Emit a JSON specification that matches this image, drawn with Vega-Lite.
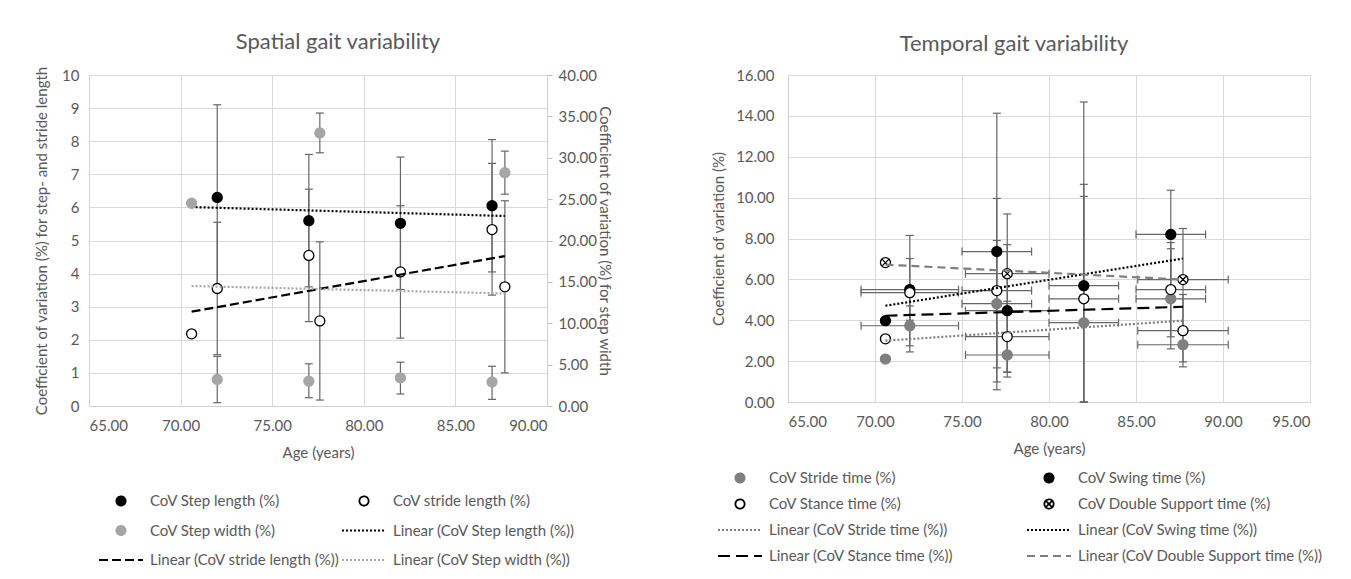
{
  "$schema": "https://vega.github.io/schema/vega-lite/v6.json",
  "background": "white",
  "padding": {"left": 34, "top": 30, "right": 12, "bottom": 5},
  "config": {
    "font": "Lato",
    "view": {"stroke": null},
    "axis": {"labelFont": "Lato", "labelFontSize": 15, "labelColor": "#595959", "titleFont": "Lato", "titleFontSize": 15, "titleFontWeight": "normal", "titleColor": "#595959", "gridColor": "#d9d9d9", "gridWidth": 1, "domainColor": "#d0d0d0", "ticks": false},
    "title": {"font": "Lato", "fontSize": 22, "fontWeight": "normal", "color": "#595959"},
    "legend": {"labelFont": "Lato", "labelFontSize": 15, "labelColor": "#595959", "padding": 0, "symbolStrokeWidth": 1.8, "symbolSize": 1936}
  },
  "resolve": {
    "scale": {"stroke": "independent", "fill": "independent", "shape": "independent", "strokeDash": "independent"},
    "legend": {"stroke": "independent"}
  },
  "datasets": {
    "spatial": [
      {"series": "CoV Step length (%)", "age": 72.0, "cov": 6.3, "lo": 3.5, "hi": 9.1},
      {"series": "CoV Step length (%)", "age": 77.0, "cov": 5.6, "lo": 3.6, "hi": 7.6},
      {"series": "CoV Step length (%)", "age": 82.0, "cov": 5.52, "lo": 3.52, "hi": 7.52},
      {"series": "CoV Step length (%)", "age": 87.0, "cov": 6.05, "lo": 4.05, "hi": 8.05},
      {"series": "CoV stride length (%)", "age": 70.6, "cov": 2.18},
      {"series": "CoV stride length (%)", "age": 72.0, "cov": 3.55, "lo": 1.55, "hi": 5.55},
      {"series": "CoV stride length (%)", "age": 77.0, "cov": 4.55, "lo": 2.55, "hi": 6.55},
      {"series": "CoV stride length (%)", "age": 77.6, "cov": 2.57, "lo": 0.18, "hi": 4.96},
      {"series": "CoV stride length (%)", "age": 82.0, "cov": 4.05, "lo": 2.05, "hi": 6.05},
      {"series": "CoV stride length (%)", "age": 87.0, "cov": 5.33, "lo": 3.35, "hi": 7.33},
      {"series": "CoV stride length (%)", "age": 87.7, "cov": 3.6, "lo": 1.0, "hi": 6.2},
      {"series": "CoV Step width (%)", "age": 70.6, "cov": 24.5},
      {"series": "CoV Step width (%)", "age": 72.0, "cov": 3.2, "lo": 0.4, "hi": 6.0},
      {"series": "CoV Step width (%)", "age": 77.0, "cov": 3.0, "lo": 1.0, "hi": 5.1},
      {"series": "CoV Step width (%)", "age": 77.6, "cov": 33.0, "lo": 30.6, "hi": 35.4},
      {"series": "CoV Step width (%)", "age": 82.0, "cov": 3.4, "lo": 1.45, "hi": 5.3},
      {"series": "CoV Step width (%)", "age": 87.0, "cov": 2.9, "lo": 0.8, "hi": 4.8},
      {"series": "CoV Step width (%)", "age": 87.7, "cov": 28.2, "lo": 25.6, "hi": 30.8}
    ],
    "spatialTrend": [
      {"series": "Linear (CoV Step length (%))", "age": 70.6, "cov": 6.01},
      {"series": "Linear (CoV Step length (%))", "age": 87.7, "cov": 5.74},
      {"series": "Linear (CoV stride length (%))", "age": 70.6, "cov": 2.85},
      {"series": "Linear (CoV stride length (%))", "age": 87.7, "cov": 4.53},
      {"series": "Linear (CoV Step width (%))", "age": 70.6, "cov": 14.5},
      {"series": "Linear (CoV Step width (%))", "age": 87.7, "cov": 13.6}
    ],
    "temporal": [
      {"series": "CoV Stride time (%)", "age": 70.6, "cov": 2.1},
      {"series": "CoV Stride time (%)", "age": 72.0, "cov": 3.73, "lo": 2.75, "hi": 4.7, "age_lo": 69.2, "age_hi": 74.8},
      {"series": "CoV Stride time (%)", "age": 77.0, "cov": 4.81, "lo": 1.67, "hi": 7.9, "age_lo": 75.0, "age_hi": 79.0},
      {"series": "CoV Stride time (%)", "age": 77.6, "cov": 2.3, "lo": 1.45, "hi": 3.15, "age_lo": 75.2, "age_hi": 80.0},
      {"series": "CoV Stride time (%)", "age": 82.0, "cov": 3.88, "lo": 0, "hi": 10.06, "age_lo": 80.0, "age_hi": 84.0},
      {"series": "CoV Stride time (%)", "age": 87.0, "cov": 5.05, "lo": 2.6, "hi": 7.5, "age_lo": 85.0, "age_hi": 89.0},
      {"series": "CoV Stride time (%)", "age": 87.7, "cov": 2.8, "lo": 1.96, "hi": 3.65, "age_lo": 85.1, "age_hi": 90.3},
      {"series": "CoV Swing time (%)", "age": 70.6, "cov": 3.98},
      {"series": "CoV Swing time (%)", "age": 72.0, "cov": 5.5, "lo": 4.0, "hi": 7.02, "age_lo": 69.2, "age_hi": 74.8},
      {"series": "CoV Swing time (%)", "age": 77.0, "cov": 7.36, "lo": 0.6, "hi": 14.13, "age_lo": 75.0, "age_hi": 79.0},
      {"series": "CoV Swing time (%)", "age": 77.6, "cov": 4.47, "lo": 1.22, "hi": 7.7, "age_lo": 75.2, "age_hi": 80.0},
      {"series": "CoV Swing time (%)", "age": 82.0, "cov": 5.69, "lo": 0, "hi": 14.68, "age_lo": 80.0, "age_hi": 84.0},
      {"series": "CoV Swing time (%)", "age": 87.0, "cov": 8.2, "lo": 6.0, "hi": 10.36, "age_lo": 85.0, "age_hi": 89.0},
      {"series": "CoV Stance time (%)", "age": 70.6, "cov": 3.09},
      {"series": "CoV Stance time (%)", "age": 72.0, "cov": 5.35, "lo": 2.45, "hi": 8.15, "age_lo": 69.2, "age_hi": 74.8},
      {"series": "CoV Stance time (%)", "age": 77.0, "cov": 5.45, "lo": 0.98, "hi": 9.96, "age_lo": 75.0, "age_hi": 79.0},
      {"series": "CoV Stance time (%)", "age": 77.6, "cov": 3.2, "lo": 1.47, "hi": 4.93, "age_lo": 75.2, "age_hi": 80.0},
      {"series": "CoV Stance time (%)", "age": 82.0, "cov": 5.05, "lo": 0, "hi": 10.65, "age_lo": 80.0, "age_hi": 84.0},
      {"series": "CoV Stance time (%)", "age": 87.0, "cov": 5.5, "lo": 3.19, "hi": 7.8, "age_lo": 85.0, "age_hi": 89.0},
      {"series": "CoV Stance time (%)", "age": 87.7, "cov": 3.49, "lo": 1.72, "hi": 5.26, "age_lo": 85.1, "age_hi": 90.3},
      {"series": "CoV Double Support time (%)", "age": 70.6, "cov": 6.82},
      {"series": "CoV Double Support time (%)", "age": 77.6, "cov": 6.28, "lo": 3.4, "hi": 9.2, "age_lo": 75.2, "age_hi": 80.0},
      {"series": "CoV Double Support time (%)", "age": 87.7, "cov": 5.99, "lo": 3.5, "hi": 8.49, "age_lo": 85.1, "age_hi": 90.3}
    ],
    "temporalTrend": [
      {"series": "Linear (CoV Stride time (%))", "age": 70.6, "cov": 3.0},
      {"series": "Linear (CoV Stride time (%))", "age": 87.7, "cov": 3.98},
      {"series": "Linear (CoV Swing time (%))", "age": 70.6, "cov": 4.71},
      {"series": "Linear (CoV Swing time (%))", "age": 87.7, "cov": 7.02},
      {"series": "Linear (CoV Stance time (%))", "age": 70.6, "cov": 4.22},
      {"series": "Linear (CoV Stance time (%))", "age": 87.7, "cov": 4.66},
      {"series": "Linear (CoV Double Support time (%))", "age": 70.6, "cov": 6.72},
      {"series": "Linear (CoV Double Support time (%))", "age": 87.7, "cov": 5.99}
    ]
  },
  "spacing": 241,
  "bounds": "flush",
  "hconcat": [
    {
      "width": 458,
      "height": 331,
      "title": {"text": "Spatial gait variability", "anchor": "middle", "dx": 20, "offset": 12},
      "encoding": {
        "x": {"field": "age", "type": "quantitative", "scale": {"domain": [65, 90], "nice": false, "zero": false},
          "axis": {"title": "Age (years)", "values": [65, 70, 75, 80, 85, 90], "format": ".2f", "grid": true, "labelPadding": 12, "titlePadding": 12}}
      },
      "layer": [
        {
          "encoding": {
            "y": {"field": "cov", "type": "quantitative", "scale": {"domain": [0, 10], "nice": false, "zero": false},
              "axis": {"title": "Coefficient of variation (%) for step- and stride length", "values": [0, 1, 2, 3, 4, 5, 6, 7, 8, 9, 10], "format": "d", "grid": true, "labelPadding": 10, "titlePadding": 12}}
          },
          "layer": [
            {
              "data": {"name": "spatial"},
              "transform": [{"filter": "datum.series != 'CoV Step width (%)' && isValid(datum.lo)"}],
              "mark": {"type": "rule", "color": "#666666", "strokeWidth": 1.2},
              "encoding": {"y": {"field": "lo", "type": "quantitative"}, "y2": {"field": "hi"}}
            },
            {
              "data": {"name": "spatial"},
              "transform": [{"filter": "datum.series != 'CoV Step width (%)' && isValid(datum.lo)"}, {"fold": ["lo", "hi"], "as": ["k", "v"]}],
              "mark": {"type": "tick", "orient": "horizontal", "color": "#666666", "size": 8, "thickness": 1.2, "opacity": 1},
              "encoding": {"y": {"field": "v", "type": "quantitative"}}
            },
            {
              "data": {"name": "spatial"},
              "transform": [{"filter": "datum.series != 'CoV Step width (%)'"}],
              "mark": {"type": "point", "filled": true, "size": 100, "strokeWidth": 1.3, "opacity": 1},
              "encoding": {
                "fill": {"field": "series", "type": "nominal", "scale": {"domain": ["CoV Step length (%)", "CoV stride length (%)", "CoV Step width (%)"], "range": ["black", "white", "#a6a6a6"]}, "legend": null},
                "stroke": {"field": "series", "type": "nominal",
                  "scale": {"domain": ["CoV Step length (%)", "CoV stride length (%)", "CoV Step width (%)", "Linear (CoV Step length (%))", "Linear (CoV stride length (%))", "Linear (CoV Step width (%))"], "range": ["black", "black", "#a6a6a6", "black", "black", "#a6a6a6"]},
                  "legend": {"title": null, "orient": "none", "legendX": 9, "legendY": 418, "columns": 2, "direction": "horizontal", "gridAlign": "all", "columnPadding": 1, "rowPadding": 13.5, "clipHeight": 16, "labelOffset": 6, "symbolOffset": 0, "padding": 0, "labelLimit": 400,
                    "encoding": {"symbols": {
                      "fill": {"value": {"expr": "(''+datum.value)=='CoV stride length (%)' ? 'white' : ((''+datum.value)=='CoV Step width (%)' ? '#a6a6a6' : 'black')"}},
                      "shape": {"value": {"expr": "indexof(''+datum.value,'Linear')==0 ? 'stroke' : 'M-0.21,0A0.21,0.21,0,1,1,0.21,0A0.21,0.21,0,1,1,-0.21,0Z'"}},
                      "strokeDash": {"value": {"expr": "(''+datum.value)=='Linear (CoV stride length (%))' ? [9,4] : (indexof(''+datum.value,'Linear')==0 ? [2,2] : [1,0])"}}
                    }}}}
              }
            },
            {
              "data": {"name": "spatialTrend"},
              "transform": [{"filter": "datum.series != 'Linear (CoV Step width (%))'"}],
              "mark": {"type": "line", "strokeWidth": 2.2, "strokeCap": "butt"},
              "encoding": {
                "stroke": {"field": "series", "type": "nominal",
                  "scale": {"domain": ["CoV Step length (%)", "CoV stride length (%)", "CoV Step width (%)", "Linear (CoV Step length (%))", "Linear (CoV stride length (%))", "Linear (CoV Step width (%))"], "range": ["black", "black", "#a6a6a6", "black", "black", "#a6a6a6"]}},
                "strokeDash": {"field": "series", "type": "nominal", "scale": {"domain": ["Linear (CoV Step length (%))", "Linear (CoV stride length (%))", "Linear (CoV Step width (%))"], "range": [[2, 2], [9, 4], [2, 2]]}, "legend": null}
              }
            }
          ]
        },
        {
          "encoding": {
            "y": {"field": "cov", "type": "quantitative", "scale": {"domain": [0, 40], "nice": false, "zero": false},
              "axis": {"orient": "right", "title": "Coefficient of variation (%) for step width", "values": [0, 5, 10, 15, 20, 25, 30, 35, 40], "format": ".2f", "grid": false, "ticks": true, "tickSize": 5, "tickColor": "#bfbfbf", "labelPadding": 6, "titlePadding": 0}}
          },
          "layer": [
            {
              "data": {"name": "spatial"},
              "transform": [{"filter": "datum.series == 'CoV Step width (%)' && isValid(datum.lo)"}],
              "mark": {"type": "rule", "color": "#666666", "strokeWidth": 1.2},
              "encoding": {"y": {"field": "lo", "type": "quantitative"}, "y2": {"field": "hi"}}
            },
            {
              "data": {"name": "spatial"},
              "transform": [{"filter": "datum.series == 'CoV Step width (%)' && isValid(datum.lo)"}, {"fold": ["lo", "hi"], "as": ["k", "v"]}],
              "mark": {"type": "tick", "orient": "horizontal", "color": "#666666", "size": 8, "thickness": 1.2, "opacity": 1},
              "encoding": {"y": {"field": "v", "type": "quantitative"}}
            },
            {
              "data": {"name": "spatial"},
              "transform": [{"filter": "datum.series == 'CoV Step width (%)'"}],
              "mark": {"type": "point", "filled": true, "size": 100, "strokeWidth": 1.3, "opacity": 1},
              "encoding": {
                "fill": {"field": "series", "type": "nominal", "scale": {"domain": ["CoV Step length (%)", "CoV stride length (%)", "CoV Step width (%)"], "range": ["black", "white", "#a6a6a6"]}, "legend": null},
                "stroke": {"field": "series", "type": "nominal",
                  "scale": {"domain": ["CoV Step length (%)", "CoV stride length (%)", "CoV Step width (%)", "Linear (CoV Step length (%))", "Linear (CoV stride length (%))", "Linear (CoV Step width (%))"], "range": ["black", "black", "#a6a6a6", "black", "black", "#a6a6a6"]}}
              }
            },
            {
              "data": {"name": "spatialTrend"},
              "transform": [{"filter": "datum.series == 'Linear (CoV Step width (%))'"}],
              "mark": {"type": "line", "strokeWidth": 2.2, "strokeCap": "butt"},
              "encoding": {
                "stroke": {"field": "series", "type": "nominal",
                  "scale": {"domain": ["CoV Step length (%)", "CoV stride length (%)", "CoV Step width (%)", "Linear (CoV Step length (%))", "Linear (CoV stride length (%))", "Linear (CoV Step width (%))"], "range": ["black", "black", "#a6a6a6", "black", "black", "#a6a6a6"]}},
                "strokeDash": {"field": "series", "type": "nominal", "scale": {"domain": ["Linear (CoV Step length (%))", "Linear (CoV stride length (%))", "Linear (CoV Step width (%))"], "range": [[2, 2], [9, 4], [2, 2]]}, "legend": null}
              }
            }
          ]
        }
      ],
      "resolve": {"scale": {"y": "independent"}}
    },
    {
      "width": 522,
      "height": 327,
      "title": {"text": "Temporal gait variability", "anchor": "middle", "dx": -35, "offset": 12},
      "encoding": {
        "x": {"field": "age", "type": "quantitative", "scale": {"domain": [65, 95], "nice": false, "zero": false},
          "axis": {"title": "Age (years)", "values": [65, 70, 75, 80, 85, 90, 95], "format": ".2f", "grid": true, "labelPadding": 12, "titlePadding": 12}},
        "y": {"field": "cov", "type": "quantitative", "scale": {"domain": [0, 16], "nice": false, "zero": false},
          "axis": {"title": "Coefficient of variation (%)", "values": [0, 2, 4, 6, 8, 10, 12, 14, 16], "format": ".2f", "grid": true, "labelPadding": 14, "titlePadding": 9}}
      },
      "layer": [
        {
          "data": {"name": "temporal"},
          "transform": [{"filter": "isValid(datum.lo)"}],
          "mark": {"type": "rule", "color": "#666666", "strokeWidth": 1.2},
          "encoding": {"y": {"field": "lo", "type": "quantitative"}, "y2": {"field": "hi"}}
        },
        {
          "data": {"name": "temporal"},
          "transform": [{"filter": "isValid(datum.lo)"}, {"fold": ["lo", "hi"], "as": ["k", "v"]}],
          "mark": {"type": "tick", "orient": "horizontal", "color": "#666666", "size": 8, "thickness": 1.2, "opacity": 1},
          "encoding": {"y": {"field": "v", "type": "quantitative"}}
        },
        {
          "data": {"name": "temporal"},
          "transform": [{"filter": "isValid(datum.age_lo)"}],
          "mark": {"type": "rule", "color": "#666666", "strokeWidth": 1.2},
          "encoding": {"x": {"field": "age_lo", "type": "quantitative"}, "x2": {"field": "age_hi"}}
        },
        {
          "data": {"name": "temporal"},
          "transform": [{"filter": "isValid(datum.age_lo)"}, {"fold": ["age_lo", "age_hi"], "as": ["k", "a"]}],
          "mark": {"type": "tick", "orient": "vertical", "color": "#666666", "size": 8, "thickness": 1.2, "opacity": 1},
          "encoding": {"x": {"field": "a", "type": "quantitative"}}
        },
        {
          "data": {"name": "temporal"},
          "mark": {"type": "point", "filled": true, "size": 100, "strokeWidth": 1.3, "opacity": 1},
          "encoding": {
            "fill": {"field": "series", "type": "nominal", "scale": {"domain": ["CoV Stride time (%)", "CoV Swing time (%)", "CoV Stance time (%)", "CoV Double Support time (%)"], "range": ["#7f7f7f", "black", "white", "white"]}, "legend": null},
            "shape": {"field": "series", "type": "nominal", "scale": {"domain": ["CoV Stride time (%)", "CoV Swing time (%)", "CoV Stance time (%)", "CoV Double Support time (%)"], "range": ["circle", "circle", "circle", "M-1,0A1,1,0,1,1,1,0A1,1,0,1,1,-1,0ZM-0.6,-0.6L0.6,0.6M-0.6,0.6L0.6,-0.6"]}, "legend": null},
            "stroke": {"field": "series", "type": "nominal",
              "scale": {"domain": ["CoV Stride time (%)", "CoV Swing time (%)", "CoV Stance time (%)", "CoV Double Support time (%)", "Linear (CoV Stride time (%))", "Linear (CoV Swing time (%))", "Linear (CoV Stance time (%))", "Linear (CoV Double Support time (%))"], "range": ["#7f7f7f", "black", "black", "black", "#7f7f7f", "black", "black", "#7f7f7f"]},
              "legend": {"title": null, "orient": "none", "legendX": -71, "legendY": 395, "columns": 2, "direction": "horizontal", "gridAlign": "all", "columnPadding": 12, "rowPadding": 10, "clipHeight": 16, "labelOffset": 6, "symbolOffset": 0, "padding": 0, "labelLimit": 400,
                "encoding": {"symbols": {
                  "fill": {"value": {"expr": "(''+datum.value)=='CoV Stride time (%)' ? '#7f7f7f' : ((''+datum.value)=='CoV Swing time (%)' ? 'black' : 'white')"}},
                  "shape": {"value": {"expr": "indexof(''+datum.value,'Linear')==0 ? 'stroke' : ((''+datum.value)=='CoV Double Support time (%)' ? 'M-0.21,0A0.21,0.21,0,1,1,0.21,0A0.21,0.21,0,1,1,-0.21,0ZM-0.13,-0.13L0.13,0.13M-0.13,0.13L0.13,-0.13' : 'M-0.21,0A0.21,0.21,0,1,1,0.21,0A0.21,0.21,0,1,1,-0.21,0Z')"}},
                  "strokeDash": {"value": {"expr": "(''+datum.value)=='Linear (CoV Stance time (%))' ? [12,6] : ((''+datum.value)=='Linear (CoV Double Support time (%))' ? [8,5] : (indexof(''+datum.value,'Linear')==0 ? [2,2] : [1,0]))"}}
                }}}}
          }
        },
        {
          "data": {"name": "temporalTrend"},
          "mark": {"type": "line", "strokeWidth": 2.2, "strokeCap": "butt"},
          "encoding": {
            "stroke": {"field": "series", "type": "nominal",
              "scale": {"domain": ["CoV Stride time (%)", "CoV Swing time (%)", "CoV Stance time (%)", "CoV Double Support time (%)", "Linear (CoV Stride time (%))", "Linear (CoV Swing time (%))", "Linear (CoV Stance time (%))", "Linear (CoV Double Support time (%))"], "range": ["#7f7f7f", "black", "black", "black", "#7f7f7f", "black", "black", "#7f7f7f"]}},
            "strokeDash": {"field": "series", "type": "nominal", "scale": {"domain": ["Linear (CoV Stride time (%))", "Linear (CoV Swing time (%))", "Linear (CoV Stance time (%))", "Linear (CoV Double Support time (%))"], "range": [[2, 2], [2, 2], [12, 6], [8, 5]]}, "legend": null}
          }
        }
      ]
    }
  ]
}
